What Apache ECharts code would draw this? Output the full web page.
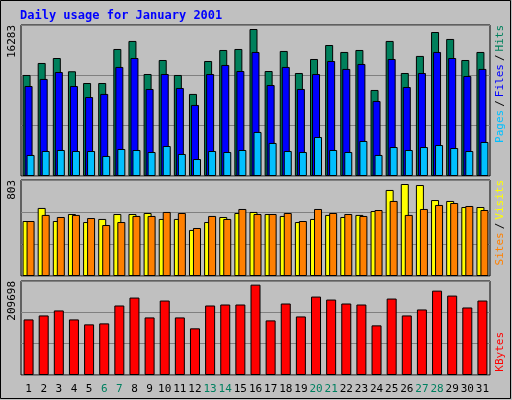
<!DOCTYPE html><html><head><meta charset="utf-8">
<script src="https://cdn.jsdelivr.net/npm/echarts@6/dist/echarts.min.js"></script>
<style>html,body{margin:0;padding:0;background:#c0c0c0}#c{width:512px;height:400px}</style></head><body><div id="c"></div>
<script>
const days=['1','2','3','4','5','6','7','8','9','10','11','12','13','14','15','16','17','18','19','20','21','22','23','24','25','26','27','28','29','30','31'];
const weekend=['6','7','13','14','20','21','27','28'];
const hits=[11190,12520,13070,11600,10300,10300,14070,14960,11300,12850,11190,9090,12740,13960,14070,16283,11630,13850,11410,12960,14510,13740,13960,9530,14960,11410,13300,15950,15180,12850,13740];
const files=[9970,10750,11520,9970,8750,9090,12080,13070,9640,11300,9750,7870,11300,12300,11630,13740,10080,12080,9640,11300,12740,11860,12410,8310,12960,9860,11410,13740,13070,11080,11860];
const pages=[2330,2770,2880,2770,2770,2220,2990,2880,2660,3320,2440,1880,2770,2660,2880,4880,3660,2770,2660,4320,2880,2660,3880,2330,3210,2880,3210,3430,3100,2770,3770];
const visits=[480,594,480,541,471,498,541,541,550,498,498,402,471,515,550,559,541,524,471,498,533,515,533,567,751,803,794,663,655,602,602];
const sites=[480,533,515,533,506,445,471,524,524,559,550,419,524,498,585,541,541,550,480,585,550,541,524,576,655,533,585,620,637,611,576];
const kbytes=[129000,138200,149800,129000,117500,119800,161300,179700,133600,172800,133600,108300,161300,163600,163600,209698,126700,165900,135900,182000,175100,165900,163600,115200,177400,138200,152100,195800,184300,156700,172800];
const ch=echarts.init(document.getElementById('c'));
const L=21,R=22;
const grids=[{left:L,right:R,top:25,height:151},{left:L,right:R,top:180,height:96},{left:L,right:R,top:281,height:94}];
const maxes=[16283*151/147,803*288/276,209698*284/273];
const st={borderColor:'#000',borderWidth:1};
function xa(i){return {type:'category',gridIndex:i,data:days,axisLine:{show:false},axisTick:{show:false},
 axisLabel:{show:i===2,interval:0,margin:9,fontFamily:'DejaVu Sans Mono',fontSize:11,color:(v)=>weekend.includes(v)?'#008060':'#000'}};}
function ya(i){return {type:'value',gridIndex:i,min:0,max:maxes[i],interval:maxes[i]/3,axisLabel:{show:false},axisLine:{show:false},axisTick:{show:false},splitLine:{lineStyle:{color:'#808080',width:1}}};}
function t(x,y,text,rich){return {type:'text',x:x,y:y,rotation:Math.PI/2,style:{text:text,rich:rich,font:'11px DejaVu Sans Mono',fill:'#000',align:'right',verticalAlign:'middle'}};}
ch.setOption({animation:false,backgroundColor:'#c0c0c0',
 grid:grids.map(g=>Object.assign({show:true,borderColor:'#000',borderWidth:1,backgroundColor:'#c0c0c0'},g)),
 xAxis:[xa(0),xa(1),xa(2)],yAxis:[ya(0),ya(1),ya(2)],
 series:[
 {type:'bar',xAxisIndex:0,yAxisIndex:0,data:hits,barWidth:8,barGap:'-75%',itemStyle:Object.assign({color:'#00805c'},st)},
 {type:'bar',xAxisIndex:0,yAxisIndex:0,data:files,barWidth:8,barGap:'-75%',itemStyle:Object.assign({color:'#0000ff'},st)},
 {type:'bar',xAxisIndex:0,yAxisIndex:0,data:pages,barWidth:8,barGap:'-75%',itemStyle:Object.assign({color:'#00c0ff'},st)},
 {type:'bar',xAxisIndex:1,yAxisIndex:1,data:visits,barWidth:8,barGap:'-50%',itemStyle:Object.assign({color:'#ffff00'},st)},
 {type:'bar',xAxisIndex:1,yAxisIndex:1,data:sites,barWidth:8,barGap:'-50%',itemStyle:Object.assign({color:'#ff8000'},st)},
 {type:'bar',xAxisIndex:2,yAxisIndex:2,data:kbytes,barWidth:10,itemStyle:Object.assign({color:'#ff0000'},st)}],
 graphic:[
 {type:'rect',shape:{x:0.5,y:0.5,width:510,height:398},style:{fill:'none',stroke:'#000',lineWidth:1}},
 {type:'text',x:20,y:10,style:{text:'Daily usage for January 2001',font:'bold 12px DejaVu Sans Mono',fill:'#0000ff'}},
 {type:'text',x:12,y:25,rotation:Math.PI/2,style:{text:'16283',font:'11px DejaVu Sans Mono',fill:'#000',align:'right',verticalAlign:'middle'}},
 {type:'text',x:12,y:180,rotation:Math.PI/2,style:{text:'803',font:'11px DejaVu Sans Mono',fill:'#000',align:'right',verticalAlign:'middle'}},
 {type:'text',x:12,y:281,rotation:Math.PI/2,style:{text:'209698',font:'11px DejaVu Sans Mono',fill:'#000',align:'right',verticalAlign:'middle'}},
 {type:'text',x:500,y:25,rotation:Math.PI/2,style:{text:'{p|Pages}{s|/}{f|Files}{s|/}{h|Hits}',rich:{p:{fill:'#00c0ff',font:'11px DejaVu Sans Mono'},s:{fill:'#000',font:'11px DejaVu Sans Mono',padding:[0,3]},f:{fill:'#0000ff',font:'11px DejaVu Sans Mono'},h:{fill:'#00805c',font:'11px DejaVu Sans Mono'}},align:'right',verticalAlign:'middle'}},
 {type:'text',x:500,y:180,rotation:Math.PI/2,style:{text:'{o|Sites}{s|/}{y|Visits}',rich:{o:{fill:'#ff8000',font:'11px DejaVu Sans Mono'},s:{fill:'#000',font:'11px DejaVu Sans Mono',padding:[0,3]},y:{fill:'#ffff00',font:'11px DejaVu Sans Mono'}},align:'right',verticalAlign:'middle'}},
 {type:'text',x:500,y:332,rotation:Math.PI/2,style:{text:'KBytes',font:'11px DejaVu Sans Mono',fill:'#ff0000',align:'right',verticalAlign:'middle'}}
 ]});
</script></body></html>
